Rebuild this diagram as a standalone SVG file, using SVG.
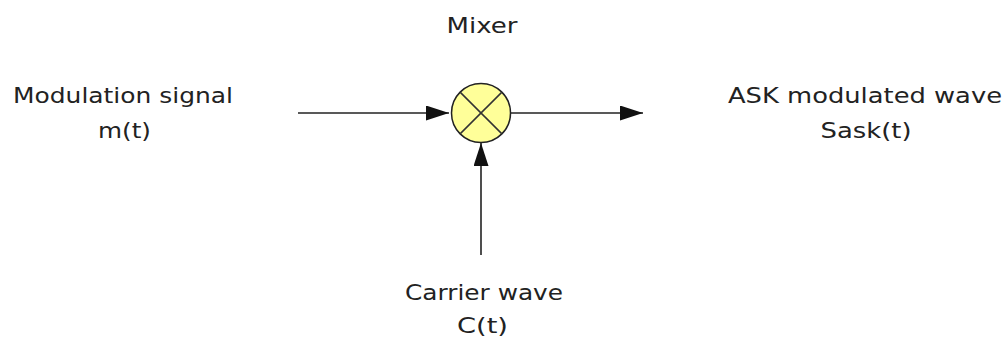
<svg xmlns="http://www.w3.org/2000/svg" width="1005" height="341" viewBox="0 0 1005 341">
<style>
.t{font-family:"DejaVu Sans","Liberation Sans",sans-serif;font-size:22px;fill:#222;text-anchor:middle}
.c{stroke:#222;stroke-width:1.6;fill:none}
</style>
<defs>
<marker id="ah" markerUnits="userSpaceOnUse" markerWidth="24" markerHeight="16" refX="23" refY="7.5" orient="auto">
<path d="M0,0 L23,7.5 L0,15 Z" fill="#111"/>
</marker>
</defs>
<rect width="1005" height="341" fill="#fff"/>
<g id="connectors">
<line class="c" x1="298" y1="113" x2="449" y2="113" marker-end="url(#ah)"/>
<line class="c" x1="511" y1="113" x2="643" y2="113" marker-end="url(#ah)"/>
<line class="c" x1="481" y1="255" x2="481" y2="143" marker-end="url(#ah)"/>
</g>
<g id="mixer">
<circle cx="481" cy="113" r="29.5" fill="#ffff99" stroke="#222" stroke-width="1.5"/>
<line x1="460.1" y1="92.1" x2="501.9" y2="133.9" stroke="#333" stroke-width="1.5"/>
<line x1="501.9" y1="92.1" x2="460.1" y2="133.9" stroke="#333" stroke-width="1.5"/>
<text class="t" x="482" y="33" textLength="71" lengthAdjust="spacingAndGlyphs">Mixer</text>
</g>
<g id="modulation-signal">
<text class="t" x="123" y="102.5" textLength="220" lengthAdjust="spacingAndGlyphs">Modulation signal</text>
<text class="t" x="124.5" y="137.5" textLength="53" lengthAdjust="spacingAndGlyphs">m(t)</text>
</g>
<g id="ask-wave">
<text class="t" x="865" y="103" textLength="274" lengthAdjust="spacingAndGlyphs">ASK modulated wave</text>
<text class="t" x="866" y="138" textLength="91" lengthAdjust="spacingAndGlyphs">Sask(t)</text>
</g>
<g id="carrier-wave">
<text class="t" x="484" y="300" textLength="158" lengthAdjust="spacingAndGlyphs">Carrier wave</text>
<text class="t" x="482.5" y="333" textLength="51" lengthAdjust="spacingAndGlyphs">C(t)</text>
</g>
</svg>
